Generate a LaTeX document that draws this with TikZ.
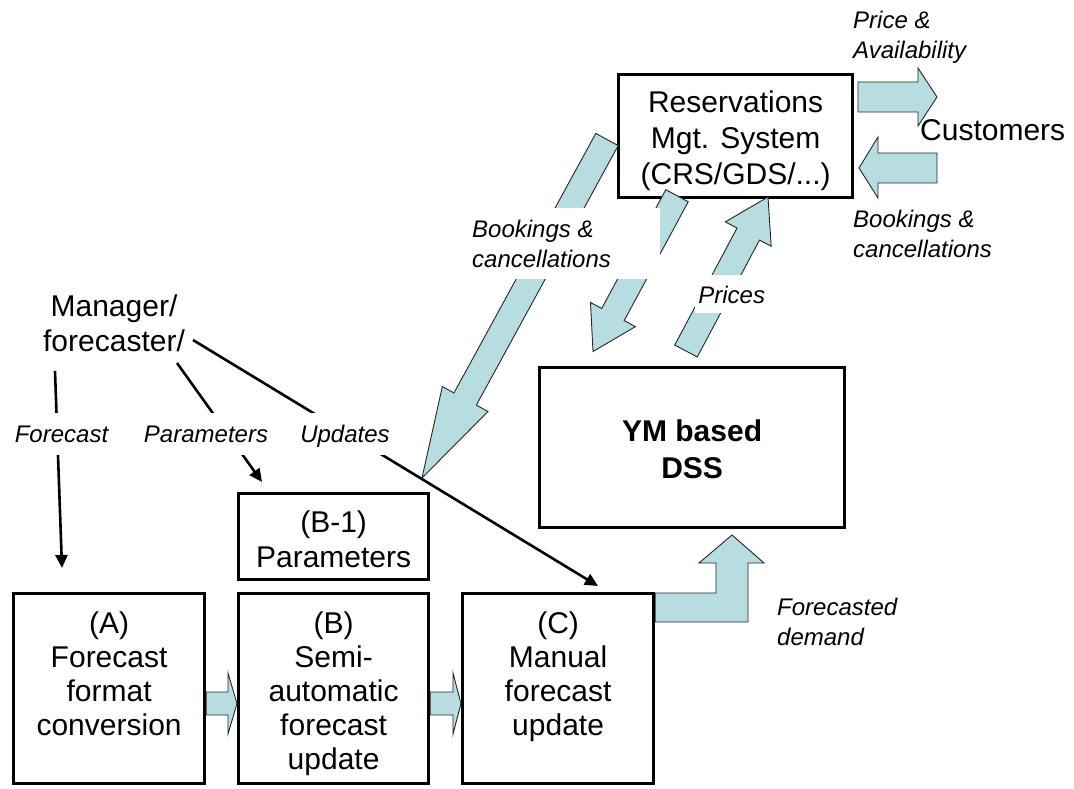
\documentclass[tikz,border=0pt]{standalone}
\usepackage{fontspec}
\setmainfont{Liberation Sans}
\usetikzlibrary{arrows.meta,calc}
\definecolor{fatblue}{RGB}{183,221,225}
\newcommand\fatarrow[5]{%
  \coordinate (fabase) at ($(#2)!#5!(#1)$);
  \draw[fat] ($(#1)!#3!90:(#2)$) -- ($(fabase)!#3!90:(#2)$) -- ($(fabase)!#4!90:(#2)$) -- (#2)
    -- ($(fabase)!#4!-90:(#2)$) -- ($(fabase)!#3!-90:(#2)$) -- ($(#1)!#3!-90:(#2)$) -- cycle;}
\begin{document}
\begin{tikzpicture}[x=1pt,y=-1pt,
  box/.style={draw, line width=3.2pt, inner sep=0pt, anchor=north west, font=\fontsize{30}{34}\selectfont},
  fat/.style={fill=fatblue, draw=black!85, line width=0.9pt, line join=miter},
  conn/.style={line width=2.6pt, -{Triangle[length=13pt,width=12pt]}},
  ital/.style={inner sep=0pt, font=\fontsize{24}{30}\selectfont\itshape},
  wlab/.style={ital, fill=white}]
\useasboundingbox (0,0) rectangle (1074,789);

% boxes
\node[box] (A) at (12,592) {\parbox[c][190pt][t]{191pt}{\centering\rule{0pt}{40pt}(A)\\Forecast\\format\\conversion}};
\node[box] (B) at (237,592) {\parbox[c][190pt][t]{190pt}{\centering\rule{0pt}{40pt}(B)\\Semi-\\automatic\\forecast\\update}};
\node[box] (C) at (461,592) {\parbox[c][190pt][t]{191pt}{\centering\rule{0pt}{40pt}(C)\\Manual\\forecast\\update}};
\node[box, font=\fontsize{30}{35}\selectfont] (B1) at (237,492) {\parbox[c][86pt][t]{190pt}{\centering\rule{0pt}{39pt}(B-1)\\Parameters}};
\node[box, font=\fontsize{30}{36}\selectfont] (res) at (617,73) {\parbox[c][123pt][t]{234pt}{\centering\rule{0pt}{38pt}Reservations\\Mgt. System\\(CRS/GDS/...)}};
\node[box, font=\fontsize{30}{37}\selectfont\bfseries] (ym) at (538,366) {\parbox[c][160pt][t]{305pt}{\centering\rule{0pt}{74pt}YM based\\DSS}};

% free texts
\node[inner sep=0pt, anchor=base west, font=\fontsize{30}{36}\selectfont] (cust) at (920,141) {Customers};
\node[inner sep=0pt, anchor=north, font=\fontsize{30}{35}\selectfont] (mgr) at (114,286) {\parbox[t]{160pt}{\centering\rule{0pt}{30pt}Manager/\\forecaster/}};

% manager connectors
\coordinate (mF) at (55,371);  \coordinate (tF) at (62,568);
\coordinate (mP) at (177,363); \coordinate (tP) at (262,482);
\coordinate (mU) at (193,340); \coordinate (tU) at (598,586);
\draw[conn] (mF) -- (tF);
\draw[conn] (mP) -- (tP);
\draw[conn] (mU) -- (tU);

% fat arrows
\coordinate (bkT) at (607,139.5); \coordinate (bkP) at (422,478);
\fatarrow{bkT}{bkP}{12.75pt}{26pt}{90pt}
\coordinate (dnT) at (677,195.75); \coordinate (dnP) at (593,351.5);
\fatarrow{dnT}{dnP}{12.75pt}{25.5pt}{42pt}
\coordinate (upT) at (686,351); \coordinate (upP) at (768,197);
\fatarrow{upT}{upP}{12.75pt}{26pt}{42pt}
\draw[fat] (858,82) -- (918,82) -- (918,68) -- (937,97) -- (918,126) -- (918,112) -- (858,112) -- cycle;
\draw[fat] (937,153) -- (878,153) -- (878,137) -- (859,168) -- (878,198) -- (878,183) -- (937,183) -- cycle;
\draw[fat] (A.east |- 0,692) -- (228,692) -- (228,673) -- (B.west |- 0,703.5) -- (228,734) -- (228,715) -- (A.east |- 0,715) -- cycle;
\draw[fat] (B.east |- 0,692) -- (453,692) -- (453,673) -- (C.west |- 0,703.5) -- (453,734) -- (453,715) -- (B.east |- 0,715) -- cycle;
\draw[fat] (C.east |- 0,593) -- (716,593) -- (716,563) -- (699,563) -- (732,535) -- (764,563) -- (748,563) -- (748,622) -- (C.east |- 0,622) -- cycle;

% labels
\node[wlab, anchor=north west] (bklab) at (472,208) {\parbox[c][71pt][t]{188pt}{\raggedright\rule{0pt}{29pt}Bookings \&\\cancellations}};
\node[wlab, anchor=north west] (prlab) at (695,275) {\parbox[c][38pt][t]{73pt}{\centering\rule{0pt}{28pt}Prices}};
\node[wlab, anchor=north] (fclab) at (61.5,413) {\parbox[c][42pt][t]{96pt}{\centering\rule{0pt}{29pt}Forecast}};
\node[wlab, anchor=north] (pmlab) at (206,413) {\parbox[c][42pt][t]{128pt}{\centering\rule{0pt}{29pt}Parameters}};
\node[wlab, anchor=north] (uplab) at (345,413) {\parbox[c][42pt][t]{90pt}{\centering\rule{0pt}{29pt}Updates}};
\node[ital, anchor=north west] (pa) at (853,4) {\parbox[t]{200pt}{\raggedright\rule{0pt}{24pt}Price \&\\Availability}};
\node[ital, anchor=north west] (bc2) at (853,203) {\parbox[t]{200pt}{\raggedright\rule{0pt}{24pt}Bookings \&\\cancellations}};
\node[ital, anchor=north west] (fd) at (777,591) {\parbox[t]{150pt}{\raggedright\rule{0pt}{24pt}Forecasted\\demand}};
\end{tikzpicture}
\end{document}
